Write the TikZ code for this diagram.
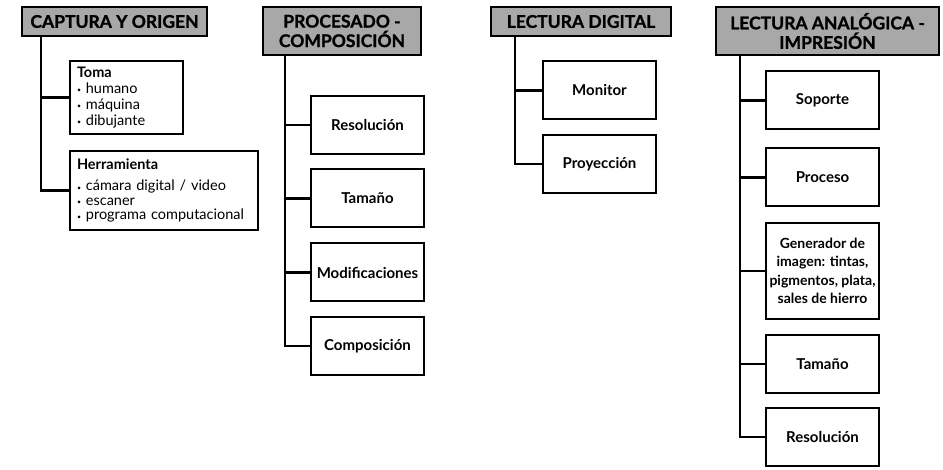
\documentclass[tikz,border=0pt]{standalone}
\usepackage{fontspec}
\setmainfont{Lato}
\newfontfamily\hdrfont{Lato}[BoldFeatures={FakeBold=1.2}]
\usetikzlibrary{calc}
\definecolor{hdrgray}{RGB}{168,168,168}
\newcommand{\bul}{\raisebox{0.1ex}{\fontsize{7}{7}\selectfont\textbullet}\ }
\tikzset{
  hdr/.style={draw, line width=2pt, fill=hdrgray, font=\hdrfont\bfseries\fontsize{17.5}{19.5}\selectfont, align=center, inner sep=0pt},
  box/.style={draw, line width=2pt, fill=white, font=\bfseries\fontsize{15}{18.5}\selectfont, align=center, inner sep=0pt, minimum width=113pt, minimum height=58pt},
  listbox/.style={draw, line width=2pt, fill=white, align=left, inner ysep=0pt, inner xsep=7pt},
  conn/.style={line width=2.5pt},
}
\begin{document}
\begin{tikzpicture}[x=1pt,y=-1pt]
\useasboundingbox (0,0) rectangle (943,470);
% headers
\node[hdr, minimum width=185pt, minimum height=29pt] (h1) at (114.5,21.5) {CAPTURA Y ORIGEN};
\node[hdr, minimum width=158pt, minimum height=48pt] (h2) at (342,31) {PROCESADO -\\COMPOSICIÓN};
\node[hdr, minimum width=180pt, minimum height=29pt] (h3) at (581,21.5) {LECTURA DIGITAL};
\node[hdr, minimum width=223pt, minimum height=48pt] (h4) at (827.5,31) {LECTURA ANALÓGICA -\\IMPRESIÓN};
% trunk tops
\coordinate (t1) at ($(h1.south west)+(20,0)$);
\coordinate (t2) at ($(h2.south west)+(23,0)$);
\coordinate (t3) at ($(h3.south west)+(25,0)$);
\coordinate (t4) at ($(h4.south west)+(25,0)$);
% column 1
\node[listbox, text width=99pt, minimum height=73pt, font=\fontsize{14.5}{16}\selectfont] (toma) at (126.5,97.5)
  {\textbf{Toma}\\ \bul humano\\ \bul máquina\\ \bul dibujante};
\node[listbox, text width=174pt, minimum height=79pt, font=\fontsize{14.5}{14.5}\selectfont] (herr) at (164,190.5)
  {\textbf{Herramienta}\\[7pt] \bul cámara digital / video\\ \bul escaner\\ \bul programa computacional};
% column 2
\node[box] (c2a) at (367.5,125) {Resolución};
\node[box] (c2b) at (367.5,198.5) {Tamaño};
\node[box] (c2c) at (367.5,272.5) {Modificaciones};
\node[box] (c2d) at (367.5,346) {Composición};
% column 3
\node[box] (c3a) at (599.5,90.5) {Monitor};
\node[box] (c3b) at (599.5,164) {Proyección};
% column 4
\node[box] (c4a) at (822.5,100.5) {Soporte};
\node[box] (c4b) at (822.5,177.5) {Proceso};
\node[box, minimum height=96pt, font=\bfseries\fontsize{14}{18.5}\selectfont] (c4c) at (822.5,271) {Generador de\\imagen: tintas,\\pigmentos, plata,\\sales de hierro};
\node[box] (c4d) at (822.5,364) {Tamaño};
\node[box] (c4e) at (822.5,437) {Resolución};
% connectors
\draw[conn] (t1) |- (toma.west);
\draw[conn] (t1) |- (herr.west);
\draw[conn] (t2) |- (c2a.west);
\draw[conn] (t2) |- (c2b.west);
\draw[conn] (t2) |- (c2c.west);
\draw[conn] (t2) |- (c2d.west);
\draw[conn] (t3) |- (c3a.west);
\draw[conn] (t3) |- (c3b.west);
\draw[conn] (t4) |- (c4a.west);
\draw[conn] (t4) |- (c4b.west);
\draw[conn] (t4) |- (c4c.west);
\draw[conn] (t4) |- (c4d.west);
\draw[conn] (t4) |- (c4e.west);
\end{tikzpicture}
\end{document}
